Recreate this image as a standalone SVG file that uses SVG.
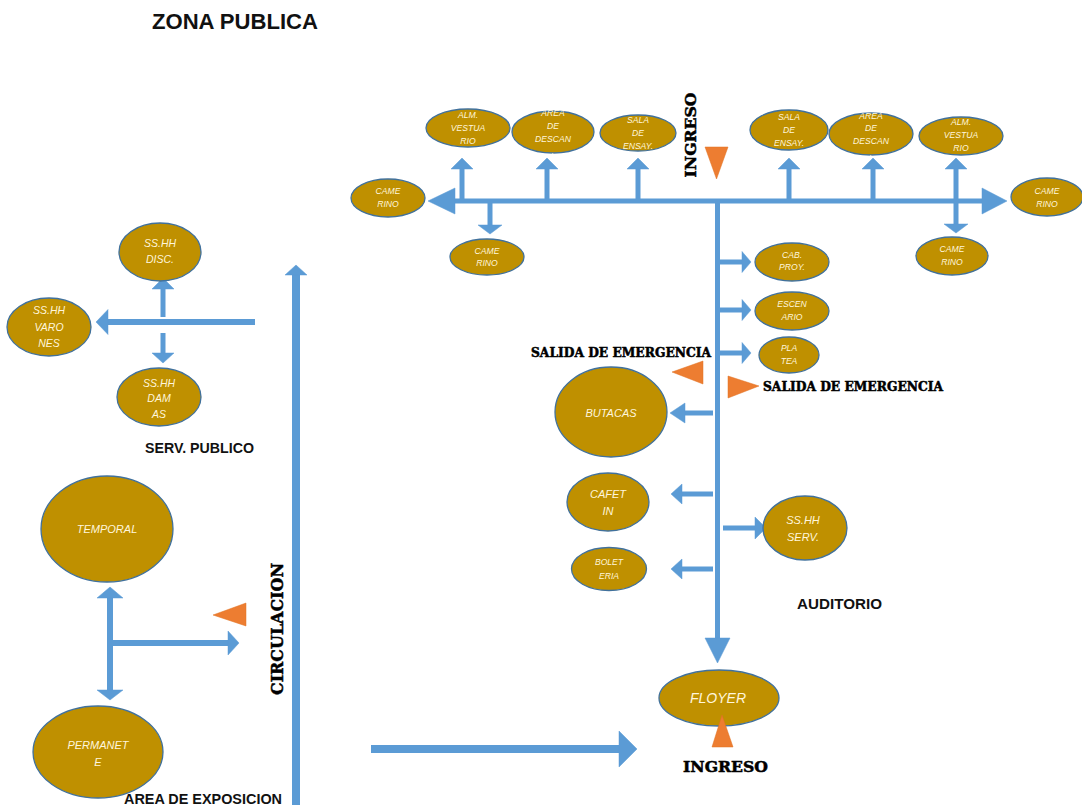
<svg xmlns="http://www.w3.org/2000/svg" width="1082" height="805" viewBox="0 0 1082 805">
<style>
.nd{fill:#BF9000;stroke:#41719C;stroke-width:1.3}
.nt{font-family:"Liberation Sans",Arial,sans-serif;font-style:italic;fill:#FFF6DC;text-anchor:middle;dominant-baseline:central}
.s8{font-size:8.6px}
.s10{font-size:10.5px}
.s11{font-size:11px}
.sh{stroke:#5B9BD5;fill:none}
.ah{fill:#5B9BD5;stroke:#5B9BD5;stroke-width:0.5;stroke-linejoin:miter}
.tri{fill:#ED7D31;stroke:#E07020;stroke-width:0.5}
.lbl{font-family:"Liberation Sans",Arial,sans-serif;font-weight:bold;fill:#111}
.hv{font-family:"DejaVu Serif","Liberation Serif",serif;font-weight:bold;fill:#000;stroke:#000;stroke-width:0.5}
</style>
<rect width="1082" height="805" fill="#FFFFFF"/>

<text class="lbl" x="152" y="29" font-size="22" textLength="166" lengthAdjust="spacingAndGlyphs">ZONA PUBLICA</text>

<g id="connectors">
  <line class="sh" x1="455" y1="201" x2="982" y2="201" stroke-width="5"/>
  <polygon class="ah" points="428,201 455,188 455,214"/>
  <polygon class="ah" points="1007,201 982,188 982,214"/>
  <line class="sh" x1="717.5" y1="199" x2="717.5" y2="639" stroke-width="5"/>
  <polygon class="ah" points="705,638 730,638 717.5,663"/>
  <line class="sh" x1="462" y1="168" x2="462" y2="199" stroke-width="5"/>
  <polygon class="ah" points="451,169 473,169 462,158"/>
  <line class="sh" x1="547" y1="168" x2="547" y2="199" stroke-width="5"/>
  <polygon class="ah" points="536,169 558,169 547,158"/>
  <line class="sh" x1="638" y1="168" x2="638" y2="199" stroke-width="5"/>
  <polygon class="ah" points="627,169 649,169 638,158"/>
  <line class="sh" x1="789" y1="168" x2="789" y2="199" stroke-width="5"/>
  <polygon class="ah" points="778,169 800,169 789,158"/>
  <line class="sh" x1="873" y1="168" x2="873" y2="199" stroke-width="5"/>
  <polygon class="ah" points="862,169 884,169 873,158"/>
  <line class="sh" x1="490" y1="203" x2="490" y2="226" stroke-width="5"/>
  <polygon class="ah" points="478,225 502,225 490,234"/>
  <line class="sh" x1="956" y1="168" x2="956" y2="225" stroke-width="5"/>
  <polygon class="ah" points="945,169 967,169 956,158"/>
  <polygon class="ah" points="944,224 968,224 956,233"/>
  <line class="sh" x1="720" y1="262" x2="743" y2="262" stroke-width="5"/>
  <polygon class="ah" points="742,251.5 742,272.5 751,262"/>
  <line class="sh" x1="720" y1="310" x2="743" y2="310" stroke-width="5"/>
  <polygon class="ah" points="742,299.5 742,320.5 751,310"/>
  <line class="sh" x1="720" y1="353" x2="743" y2="353" stroke-width="5"/>
  <polygon class="ah" points="742,342.5 742,363.5 751,353"/>
  <line class="sh" x1="723" y1="528" x2="756" y2="528" stroke-width="5"/>
  <polygon class="ah" points="755,517 755,539 766,528"/>
  <line class="sh" x1="684" y1="413" x2="713" y2="413" stroke-width="5"/>
  <polygon class="ah" points="685,403 685,423 670,413"/>
  <line class="sh" x1="681" y1="494" x2="713" y2="494" stroke-width="5"/>
  <polygon class="ah" points="682,484 682,504 671,494"/>
  <line class="sh" x1="681" y1="569" x2="713" y2="569" stroke-width="5"/>
  <polygon class="ah" points="682,559 682,579 671,569"/>
  <line class="sh" x1="107" y1="322" x2="255" y2="322" stroke-width="6"/>
  <polygon class="ah" points="108,309.5 108,334.5 96,322"/>
  <line class="sh" x1="163" y1="288" x2="163" y2="317" stroke-width="5"/>
  <polygon class="ah" points="152,289 174,289 163,278"/>
  <line class="sh" x1="163" y1="333" x2="163" y2="354" stroke-width="5"/>
  <polygon class="ah" points="152,353 174,353 163,363"/>
  <line class="sh" x1="296" y1="274" x2="296" y2="805" stroke-width="8"/>
  <polygon class="ah" points="285,275 307,275 296,265"/>
  <line class="sh" x1="110" y1="597" x2="110" y2="691" stroke-width="6"/>
  <polygon class="ah" points="97,598 123,598 110,587"/>
  <polygon class="ah" points="97,690 123,690 110,700"/>
  <line class="sh" x1="110" y1="643" x2="229" y2="643" stroke-width="6"/>
  <polygon class="ah" points="228,631 228,655 239,643"/>
  <line class="sh" x1="371" y1="749" x2="620" y2="749" stroke-width="8"/>
  <polygon class="ah" points="619,731 619,767 637,749"/>
</g>

<g id="markers">
  <polygon class="tri" points="705,147 728,147 716.5,179"/>
  <polygon class="tri" points="672,372 703,361 703,384"/>
  <polygon class="tri" points="728,376 728,398 759,386"/>
  <polygon class="tri" points="213,615 246,603 246,626"/>
</g>

<g id="n-camerino-l">
  <ellipse class="nd" cx="388" cy="198" rx="37" ry="19"/>
  <text class="nt s8" x="388" y="191">CAME</text>
  <text class="nt s8" x="388" y="204">RINO</text>
</g>
<g id="n-alm-l">
  <ellipse class="nd" cx="468" cy="128" rx="42" ry="19"/>
  <text class="nt s8" x="468" y="115">ALM.</text>
  <text class="nt s8" x="468" y="128">VESTUA</text>
  <text class="nt s8" x="468" y="141">RIO</text>
</g>
<g id="n-descan-l">
  <ellipse class="nd" cx="553" cy="132" rx="41" ry="21"/>
  <text class="nt s8" x="553" y="113">AREA</text>
  <text class="nt s8" x="553" y="126">DE</text>
  <text class="nt s8" x="553" y="139">DESCAN</text>
  <text class="nt s8" x="553" y="151">.</text>
</g>
<g id="n-ensay-l">
  <ellipse class="nd" cx="638" cy="133" rx="38" ry="18"/>
  <text class="nt s8" x="638" y="120">SALA</text>
  <text class="nt s8" x="638" y="133">DE</text>
  <text class="nt s8" x="638" y="146">ENSAY.</text>
</g>
<g id="n-camerino-bl">
  <ellipse class="nd" cx="487" cy="257" rx="37" ry="18"/>
  <text class="nt s8" x="487" y="251">CAME</text>
  <text class="nt s8" x="487" y="263">RINO</text>
</g>
<g id="n-ensay-r">
  <ellipse class="nd" cx="789" cy="130" rx="39" ry="20"/>
  <text class="nt s8" x="789" y="117">SALA</text>
  <text class="nt s8" x="789" y="130">DE</text>
  <text class="nt s8" x="789" y="143">ENSAY.</text>
</g>
<g id="n-descan-r">
  <ellipse class="nd" cx="871" cy="134" rx="42" ry="21"/>
  <text class="nt s8" x="871" y="116">AREA</text>
  <text class="nt s8" x="871" y="128">DE</text>
  <text class="nt s8" x="871" y="141">DESCAN</text>
  <text class="nt s8" x="871" y="153">.</text>
</g>
<g id="n-alm-r">
  <ellipse class="nd" cx="961" cy="136" rx="42" ry="19"/>
  <text class="nt s8" x="961" y="122">ALM.</text>
  <text class="nt s8" x="961" y="135">VESTUA</text>
  <text class="nt s8" x="961" y="148">RIO</text>
</g>
<g id="n-camerino-r">
  <ellipse class="nd" cx="1047" cy="197" rx="36" ry="19"/>
  <text class="nt s8" x="1047" y="191">CAME</text>
  <text class="nt s8" x="1047" y="204">RINO</text>
</g>
<g id="n-camerino-br">
  <ellipse class="nd" cx="952" cy="256" rx="36" ry="19"/>
  <text class="nt s8" x="952" y="249">CAME</text>
  <text class="nt s8" x="952" y="262">RINO</text>
</g>
<g id="n-cabproy">
  <ellipse class="nd" cx="792" cy="262" rx="37" ry="19"/>
  <text class="nt s8" x="792" y="255">CAB.</text>
  <text class="nt s8" x="792" y="267">PROY.</text>
</g>
<g id="n-escenario">
  <ellipse class="nd" cx="792" cy="311" rx="37" ry="19"/>
  <text class="nt s8" x="792" y="304">ESCEN</text>
  <text class="nt s8" x="792" y="317">ARIO</text>
</g>
<g id="n-platea">
  <ellipse class="nd" cx="789" cy="355" rx="30" ry="18"/>
  <text class="nt s8" x="789" y="348">PLA</text>
  <text class="nt s8" x="789" y="361">TEA</text>
</g>
<g id="n-butacas">
  <ellipse class="nd" cx="611" cy="412" rx="56" ry="45"/>
  <text class="nt s11" x="611" y="413">BUTACAS</text>
</g>
<g id="n-cafetin">
  <ellipse class="nd" cx="608" cy="502" rx="41" ry="29"/>
  <text class="nt s11" x="608" y="494">CAFET</text>
  <text class="nt s11" x="608" y="511">IN</text>
</g>
<g id="n-boleteria">
  <ellipse class="nd" cx="609" cy="569" rx="37.5" ry="21.5"/>
  <text class="nt s8" x="609" y="562">BOLET</text>
  <text class="nt s8" x="609" y="576">ERIA</text>
</g>
<g id="n-sshh-serv">
  <ellipse class="nd" cx="805" cy="528" rx="42" ry="32"/>
  <text class="nt s11" x="803" y="520">SS.HH</text>
  <text class="nt s11" x="803" y="537">SERV.</text>
</g>
<g id="n-floyer">
  <ellipse class="nd" cx="719" cy="698" rx="60" ry="28"/>
  <text class="nt" font-size="14" x="718" y="698">FLOYER</text>
</g>
<polygon class="tri" points="722,715 712,747 733,747"/>

<g id="n-sshh-disc">
  <ellipse class="nd" cx="160" cy="252" rx="41" ry="29"/>
  <text class="nt s10" x="160" y="243">SS.HH</text>
  <text class="nt s10" x="160" y="259">DISC.</text>
</g>
<g id="n-sshh-varones">
  <ellipse class="nd" cx="49" cy="327" rx="42" ry="29"/>
  <text class="nt s10" x="49" y="310">SS.HH</text>
  <text class="nt s10" x="49" y="327">VARO</text>
  <text class="nt s10" x="49" y="343">NES</text>
</g>
<g id="n-sshh-damas">
  <ellipse class="nd" cx="159" cy="397" rx="42" ry="29"/>
  <text class="nt s10" x="159" y="383">SS.HH</text>
  <text class="nt s10" x="159" y="398">DAM</text>
  <text class="nt s10" x="159" y="414">AS</text>
</g>
<g id="n-temporal">
  <ellipse class="nd" cx="107" cy="529" rx="66" ry="53"/>
  <text class="nt s11" x="107" y="529">TEMPORAL</text>
</g>
<g id="n-permanete">
  <ellipse class="nd" cx="98" cy="752" rx="65" ry="46"/>
  <text class="nt s11" x="98" y="745">PERMANET</text>
  <text class="nt s11" x="98" y="762">E</text>
</g>

<g id="labels">
  <text class="hv" font-size="15" transform="translate(695.5,135) rotate(-90)" text-anchor="middle" textLength="85" lengthAdjust="spacingAndGlyphs">INGRESO</text>
  <text class="hv" font-size="12" x="531" y="357" textLength="180" lengthAdjust="spacingAndGlyphs">SALIDA DE EMERGENCIA</text>
  <text class="hv" font-size="12" x="763" y="391" textLength="180" lengthAdjust="spacingAndGlyphs">SALIDA DE EMERGENCIA</text>
  <text class="hv" font-size="15" x="683" y="772" textLength="85" lengthAdjust="spacingAndGlyphs">INGRESO</text>
  <text class="hv" font-size="16" transform="translate(282.5,629) rotate(-90)" text-anchor="middle" textLength="132" lengthAdjust="spacingAndGlyphs">CIRCULACION</text>
  <text class="lbl" font-size="14" x="145" y="453" textLength="109" lengthAdjust="spacingAndGlyphs">SERV. PUBLICO</text>
  <text class="lbl" font-size="14" x="797" y="609" textLength="85" lengthAdjust="spacingAndGlyphs">AUDITORIO</text>
  <text class="lbl" font-size="14" x="124" y="804" textLength="158" lengthAdjust="spacingAndGlyphs">AREA DE EXPOSICION</text>
</g>
</svg>
